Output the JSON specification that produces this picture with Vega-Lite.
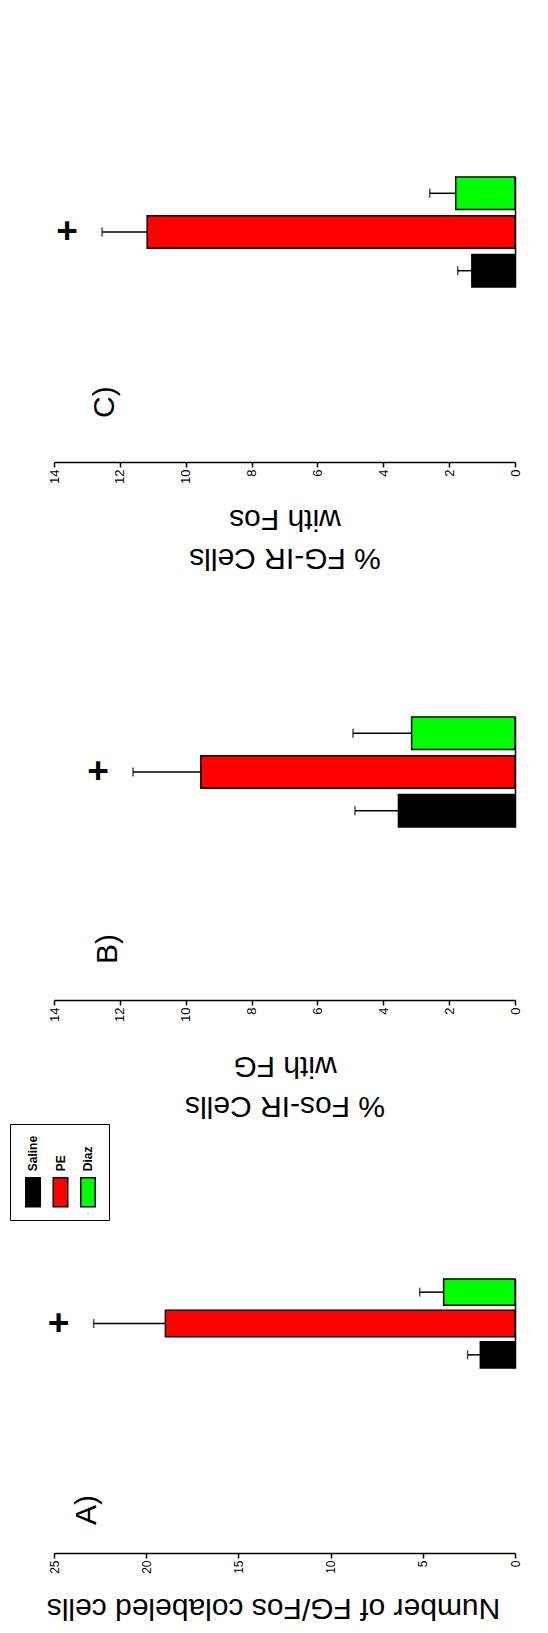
{
  "$schema": "https://vega.github.io/schema/vega-lite/v6.json",
  "background": "white",
  "padding": {"left": 9, "top": 0, "right": 0, "bottom": 8},
  "data": {"values": [
    {"panel": "A", "group": "Saline", "mean": 1.88, "upper": 2.57, "sig": ""},
    {"panel": "A", "group": "PE", "mean": 18.96, "upper": 22.85, "sig": "+"},
    {"panel": "A", "group": "Diaz", "mean": 3.87, "upper": 5.17, "sig": ""},
    {"panel": "B", "group": "Saline", "mean": 3.54, "upper": 4.86, "sig": ""},
    {"panel": "B", "group": "PE", "mean": 9.54, "upper": 11.6, "sig": "+"},
    {"panel": "B", "group": "Diaz", "mean": 3.14, "upper": 4.92, "sig": ""},
    {"panel": "C", "group": "Saline", "mean": 1.31, "upper": 1.74, "sig": ""},
    {"panel": "C", "group": "PE", "mean": 11.17, "upper": 12.54, "sig": "+"},
    {"panel": "C", "group": "Diaz", "mean": 1.8, "upper": 2.59, "sig": ""}
  ]},
  "config": {
    "view": {"stroke": null},
    "font": "Liberation Sans",
    "axis": {"labelFont": "Liberation Sans", "titleFont": "Liberation Sans", "grid": false}
  },
  "spacing": 85,
  "bounds": "flush",
  "resolve": {"scale": {"color": "independent", "x": "independent", "y": "independent"}, "legend": {"color": "independent"}},
  "vconcat": [
    {
      "width": 461, "height": 462,
      "title": {"text": "C)", "orient": "left", "anchor": "start", "frame": "group", "angle": 270, "baseline": "alphabetic", "fontSize": 30, "fontWeight": "normal", "font": "Liberation Sans", "color": "black", "offset": -96, "dx": 44},
      "transform": [{"filter": "datum.panel === 'C'"}],
      "encoding": {
        "y": {"field": "group", "type": "nominal", "sort": ["Diaz", "PE", "Saline"], "scale": {"paddingInner": 0.158, "paddingOuter": 0, "range": [177, 287]}, "axis": {"orient": "right", "labels": false, "ticks": false, "title": null, "domainColor": "black", "domainWidth": 1.5}}
      },
      "layer": [
        {"mark": {"type": "bar", "stroke": "black", "strokeWidth": 1.5},
         "encoding": {
           "x": {"field": "mean", "type": "quantitative", "scale": {"domain": [0, 14], "reverse": true, "nice": false},
                 "axis": {"orient": "bottom", "values": [0, 2, 4, 6, 8, 10, 12, 14], "labelAngle": 270, "labelFontSize": 13, "labelColor": "black", "labelPadding": 2, "labelFlush": false, "labelOverlap": false, "tickSize": 5, "tickWidth": 1.5, "tickColor": "black", "domainColor": "black", "domainWidth": 1.5, "title": ["% FG-IR Cells", "with Fos"], "titleAngle": 180, "titleBaseline": "alphabetic", "titleFontSize": 30, "titleFontWeight": "normal", "titleColor": "black", "titleLineHeight": 39, "titlePadding": 65}},
           "color": {"field": "group", "type": "nominal", "scale": {"domain": ["Saline", "PE", "Diaz"], "range": ["#000000", "#ff0000", "#00ff00"]}, "legend": null}
         }},
        {"mark": {"type": "rule", "color": "black", "strokeWidth": 1.5},
         "encoding": {"x": {"field": "mean", "type": "quantitative", "title": ["% FG-IR Cells", "with Fos"]}, "x2": {"field": "upper"}}},
        {"mark": {"type": "tick", "color": "black", "thickness": 1.5, "size": 9},
         "encoding": {"x": {"field": "upper", "type": "quantitative", "title": ["% FG-IR Cells", "with Fos"]}}},
        {"mark": {"type": "text", "dx": -35, "fontSize": 37, "fontWeight": "bold", "color": "black", "align": "center", "baseline": "middle"},
         "encoding": {"x": {"field": "upper", "type": "quantitative", "title": ["% FG-IR Cells", "with Fos"]}, "text": {"field": "sig"}}}
      ]
    },
    {
      "spacing": 95,
      "bounds": "flush",
      "resolve": {"scale": {"color": "independent", "x": "independent", "y": "independent"}, "legend": {"color": "independent"}},
      "vconcat": [
        {
          "width": 461, "height": 453,
          "title": {"text": "B)", "orient": "left", "anchor": "start", "frame": "group", "angle": 270, "baseline": "alphabetic", "fontSize": 30, "fontWeight": "normal", "font": "Liberation Sans", "color": "black", "offset": -99, "dx": 36},
          "transform": [{"filter": "datum.panel === 'B'"}],
          "encoding": {
            "y": {"field": "group", "type": "nominal", "sort": ["Diaz", "PE", "Saline"], "scale": {"paddingInner": 0.158, "paddingOuter": 0, "range": [170, 280]}, "axis": {"orient": "right", "labels": false, "ticks": false, "title": null, "domainColor": "black", "domainWidth": 1.5}}
          },
          "layer": [
            {"mark": {"type": "bar", "stroke": "black", "strokeWidth": 1.5},
             "encoding": {
               "x": {"field": "mean", "type": "quantitative", "scale": {"domain": [0, 14], "reverse": true, "nice": false},
                     "axis": {"orient": "bottom", "values": [0, 2, 4, 6, 8, 10, 12, 14], "labelAngle": 270, "labelFontSize": 13, "labelColor": "black", "labelPadding": 2, "labelFlush": false, "labelOverlap": false, "tickSize": 5, "tickWidth": 1.5, "tickColor": "black", "domainColor": "black", "domainWidth": 1.5, "title": ["% Fos-IR Cells", "with FG"], "titleAngle": 180, "titleBaseline": "alphabetic", "titleFontSize": 30, "titleFontWeight": "normal", "titleColor": "black", "titleLineHeight": 40, "titlePadding": 75}},
               "color": {"field": "group", "type": "nominal", "scale": {"domain": ["Saline", "PE", "Diaz"], "range": ["#000000", "#ff0000", "#00ff00"]}, "legend": null}
             }},
            {"mark": {"type": "rule", "color": "black", "strokeWidth": 1.5},
             "encoding": {"x": {"field": "mean", "type": "quantitative", "title": ["% Fos-IR Cells", "with FG"]}, "x2": {"field": "upper"}}},
            {"mark": {"type": "tick", "color": "black", "thickness": 1.5, "size": 9},
             "encoding": {"x": {"field": "upper", "type": "quantitative", "title": ["% Fos-IR Cells", "with FG"]}}},
            {"mark": {"type": "text", "dx": -35, "fontSize": 37, "fontWeight": "bold", "color": "black", "align": "center", "baseline": "middle"},
             "encoding": {"x": {"field": "upper", "type": "quantitative", "title": ["% Fos-IR Cells", "with FG"]}, "text": {"field": "sig"}}}
          ]
        },
        {
          "width": 461, "height": 458,
          "title": {"text": "A)", "orient": "left", "anchor": "start", "frame": "group", "angle": 270, "baseline": "alphabetic", "fontSize": 30, "fontWeight": "normal", "font": "Liberation Sans", "color": "black", "offset": -116, "dx": 28},
          "transform": [{"filter": "datum.panel === 'A'"}],
          "encoding": {
            "y": {"field": "group", "type": "nominal", "sort": ["Diaz", "PE", "Saline"], "scale": {"paddingInner": 0.161, "paddingOuter": 0, "range": [184, 273]}, "axis": {"orient": "right", "labels": false, "ticks": false, "title": null, "domainColor": "black", "domainWidth": 1.5}}
          },
          "layer": [
            {"mark": {"type": "bar", "stroke": "black", "strokeWidth": 1.5},
             "encoding": {
               "x": {"field": "mean", "type": "quantitative", "scale": {"domain": [0, 25], "reverse": true, "nice": false},
                     "axis": {"orient": "bottom", "values": [0, 5, 10, 15, 20, 25], "labelAngle": 270, "labelFontSize": 12, "labelColor": "black", "labelPadding": 2, "labelFlush": false, "labelOverlap": false, "tickSize": 5, "tickWidth": 1.5, "tickColor": "black", "domainColor": "black", "domainWidth": 1.5, "title": "Number of FG/Fos colabeled cells", "titleAngle": 180, "titleBaseline": "alphabetic", "titleFontSize": 30, "titleFontWeight": "normal", "titleColor": "black", "titlePadding": 25, "titleX": 219}},
               "color": {"field": "group", "type": "nominal", "scale": {"domain": ["Saline", "PE", "Diaz"], "range": ["#000000", "#ff0000", "#00ff00"]},
                         "legend": {"orient": "none", "legendX": -44, "legendY": 29, "direction": "horizontal", "columns": 3, "title": null, "strokeColor": "black", "padding": 10, "symbolType": "M-0.5,-1H0.5V1H-0.5Z", "symbolSize": 841, "symbolStrokeColor": "black", "symbolStrokeWidth": 1.5, "symbolOpacity": 1, "columnPadding": 3.5, "labelFont": "Liberation Sans", "labelFontSize": 12, "labelFontWeight": "bold", "labelColor": "black",
                                    "encode": {
                                      "symbols": {"update": {"x": {"value": 13}, "y": {"value": 58}}},
                                      "labels": {"update": {"angle": {"value": 270}, "x": {"value": 13}, "y": {"value": 37}, "align": {"value": "left"}, "baseline": {"value": "middle"}}}}}}
             }},
            {"mark": {"type": "rule", "color": "black", "strokeWidth": 1.5},
             "encoding": {"x": {"field": "mean", "type": "quantitative", "title": "Number of FG/Fos colabeled cells"}, "x2": {"field": "upper"}}},
            {"mark": {"type": "tick", "color": "black", "thickness": 1.5, "size": 9},
             "encoding": {"x": {"field": "upper", "type": "quantitative", "title": "Number of FG/Fos colabeled cells"}}},
            {"mark": {"type": "text", "dx": -35, "fontSize": 37, "fontWeight": "bold", "color": "black", "align": "center", "baseline": "middle"},
             "encoding": {"x": {"field": "upper", "type": "quantitative", "title": "Number of FG/Fos colabeled cells"}, "text": {"field": "sig"}}}
          ]
        }
      ]
    }
  ]
}
